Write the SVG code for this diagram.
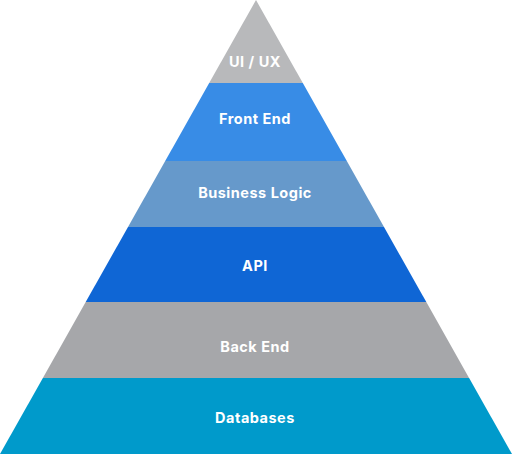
<svg xmlns="http://www.w3.org/2000/svg" width="512" height="454" viewBox="0 0 512 454">
<style>
.lbl{font-family:Inter,"Open Sans","Liberation Sans",sans-serif;font-weight:700;font-size:14.5px;letter-spacing:0.5px;fill:#ffffff;text-anchor:middle}
</style>
<rect width="512" height="454" fill="#ffffff"/>
<g id="uiux"><polygon points="256,0 302.8,83 209.2,83" fill="#b8b9bb"/><text class="lbl" x="255" y="67">UI / UX</text></g>
<g id="frontend"><polygon points="209.2,83 302.8,83 346.8,161 165.2,161" fill="#388ce6"/><text class="lbl" x="255" y="124">Front End</text></g>
<g id="businesslogic"><polygon points="165.2,161 346.8,161 384,227 128,227" fill="#6699cb"/><text class="lbl" x="255" y="197.5">Business Logic</text></g>
<g id="api"><polygon points="128,227 384,227 426.3,302 85.7,302" fill="#0f66d5"/><text class="lbl" x="255" y="271">API</text></g>
<g id="backend"><polygon points="85.7,302 426.3,302 469.1,378 42.9,378" fill="#a6a7aa"/><text class="lbl" x="255" y="351.5">Back End</text></g>
<g id="databases"><polygon points="42.9,378 469.1,378 512,454 0,454" fill="#009acb"/><text class="lbl" x="255" y="423">Databases</text></g>
<g id="connectors"/>
</svg>
